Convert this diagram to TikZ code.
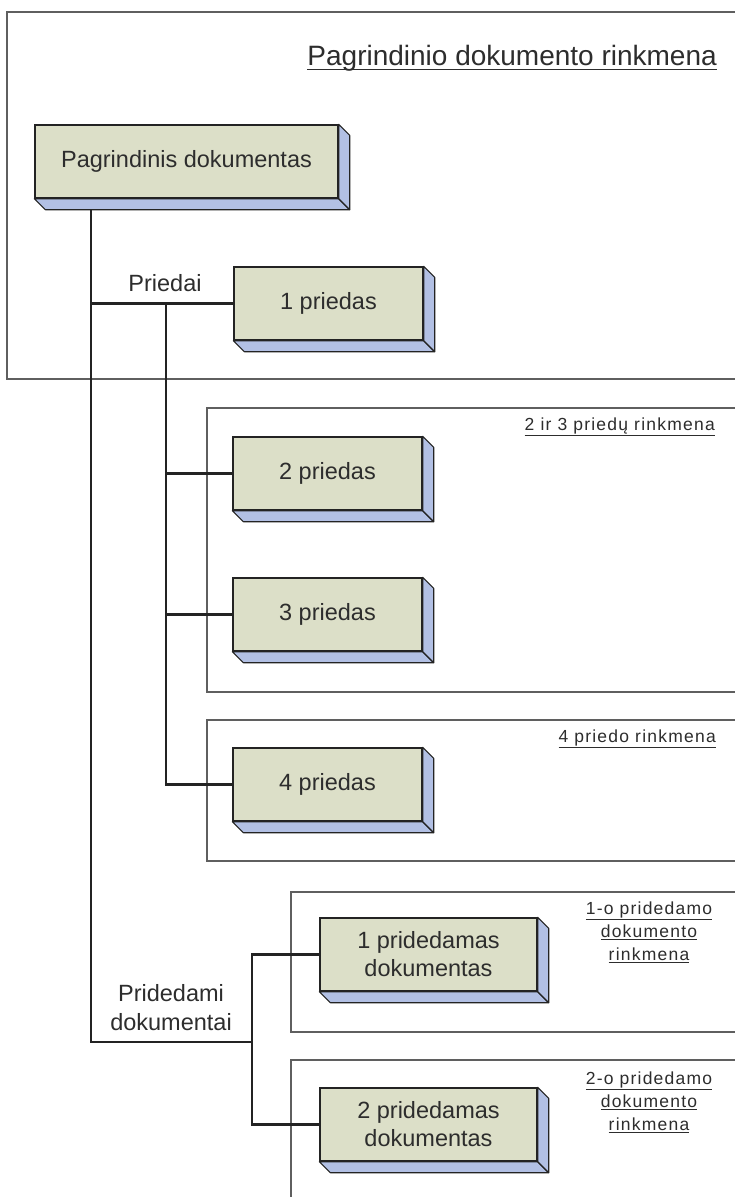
\documentclass[tikz,border=0pt]{standalone}
\usepackage{fontspec}
\setmainfont{Liberation Sans}
\newfontfamily\lblfont[LetterSpace=7]{Liberation Sans}
\usetikzlibrary{calc}
\definecolor{front}{RGB}{220,223,200}
\definecolor{side}{RGB}{178,192,228}
\definecolor{framec}{RGB}{95,95,95}
\definecolor{wire}{RGB}{35,35,35}
\definecolor{txt}{RGB}{45,45,45}
\newcommand\extrude[1]{%
  \filldraw[sideface] (#1.south west) -- ++(11,11) -- ($(#1.south east)+(11,11)$) -- (#1.south east) -- cycle;
  \filldraw[sideface] (#1.north east) -- ++(11,11) -- ($(#1.south east)+(11,11)$) -- (#1.south east) -- cycle;}
\begin{document}
\begin{tikzpicture}[x=1pt,y=-1pt,
  docbox/.style={draw=wire, line width=1.4pt, fill=front, inner sep=0pt, text=txt,
    font=\fontsize{23.5}{28}\selectfont, align=center, minimum width=189, minimum height=73},
  sideface/.style={fill=side, draw=wire, line width=1.1pt, line join=round},
  filebox/.style={draw=framec, line width=1.9pt},
  wireline/.style={draw=wire, line width=2.2pt},
  grouplbl/.style={text=txt, inner sep=0pt, font=\fontsize{23.5}{29}\selectfont, align=center},
  lbl/.style={text=txt, inner sep=0pt, font=\lblfont\fontsize{17.5}{23}\selectfont, align=center},
]
\useasboundingbox[fill=white] (0,0) rectangle (734,1197);

% file frames
\draw[filebox] (740,12) -- (7,12) -- (7,379) -- (740,379);
\draw[filebox] (740,408) -- (207,408) -- (207,692) -- (740,692);
\draw[filebox] (740,720) -- (207,720) -- (207,861) -- (740,861);
\draw[filebox] (740,892) -- (291,892) -- (291,1032) -- (740,1032);
\draw[filebox] (740,1060) -- (291,1060) -- (291,1205);

% documents
\node[docbox, minimum width=303] (main) at (186.5,161.5) {Pagrindinis dokumentas};
\node[docbox] (p1) at (328.5,303.5) {1 priedas};
\node[docbox] (p2) at (327.5,473.5) {2 priedas};
\node[docbox] (p3) at (327.5,614.5) {3 priedas};
\node[docbox] (p4) at (327.5,784.5) {4 priedas};
\node[docbox, minimum width=217] (pd1) at (428.5,954.5) {1 pridedamas\\dokumentas};
\node[docbox, minimum width=217] (pd2) at (428.5,1124.5) {2 pridedamas\\dokumentas};

% connectors
\coordinate (trunk) at ($(main.south west)+(57,0)$);
\coordinate (pB) at (166,0);
\coordinate (pdB) at (252,1042);
\draw[wireline] (trunk) |- (pdB);
\draw[wireline] (trunk |- p1.west) -- (p1.west);
\draw[wireline] (pB |- p1.west) |- (p4.west);
\draw[wireline] (pB |- p2.west) -- (p2.west);
\draw[wireline] (pB |- p3.west) -- (p3.west);
\draw[wireline] (pd1.west) -| (pdB) |- (pd2.west);

% 3D sides of the documents
\foreach \n in {main,p1,p2,p3,p4,pd1,pd2}{\extrude{\n}}

% group labels
\node[grouplbl] (priedai) at (165,283) {Priedai};
\node[grouplbl] (pridedami) at (171,1008) {Pridedami\\dokumentai};

% file labels
\node[anchor=base east, inner sep=0pt, text=txt, font=\fontsize{28}{34}\selectfont] (title) at (717,65) {Pagrindinio dokumento rinkmena};
\draw[txt, line width=1.4pt] ($(title.base west)+(0,4.5)$) -- ($(title.base east)+(0,4.5)$);
\node[lbl, anchor=base east] (l23) at (715,430) {\underline{2 ir 3 priedų rinkmena}};
\node[lbl, anchor=base east] (l4) at (716,742) {\underline{4 priedo rinkmena}};
\node[lbl] (lpd1) at (649,932) {\underline{1-o pridedamo}\\\underline{dokumento}\\\underline{rinkmena}};
\node[lbl] (lpd2) at (649,1102) {\underline{2-o pridedamo}\\\underline{dokumento}\\\underline{rinkmena}};
\end{tikzpicture}
\end{document}
